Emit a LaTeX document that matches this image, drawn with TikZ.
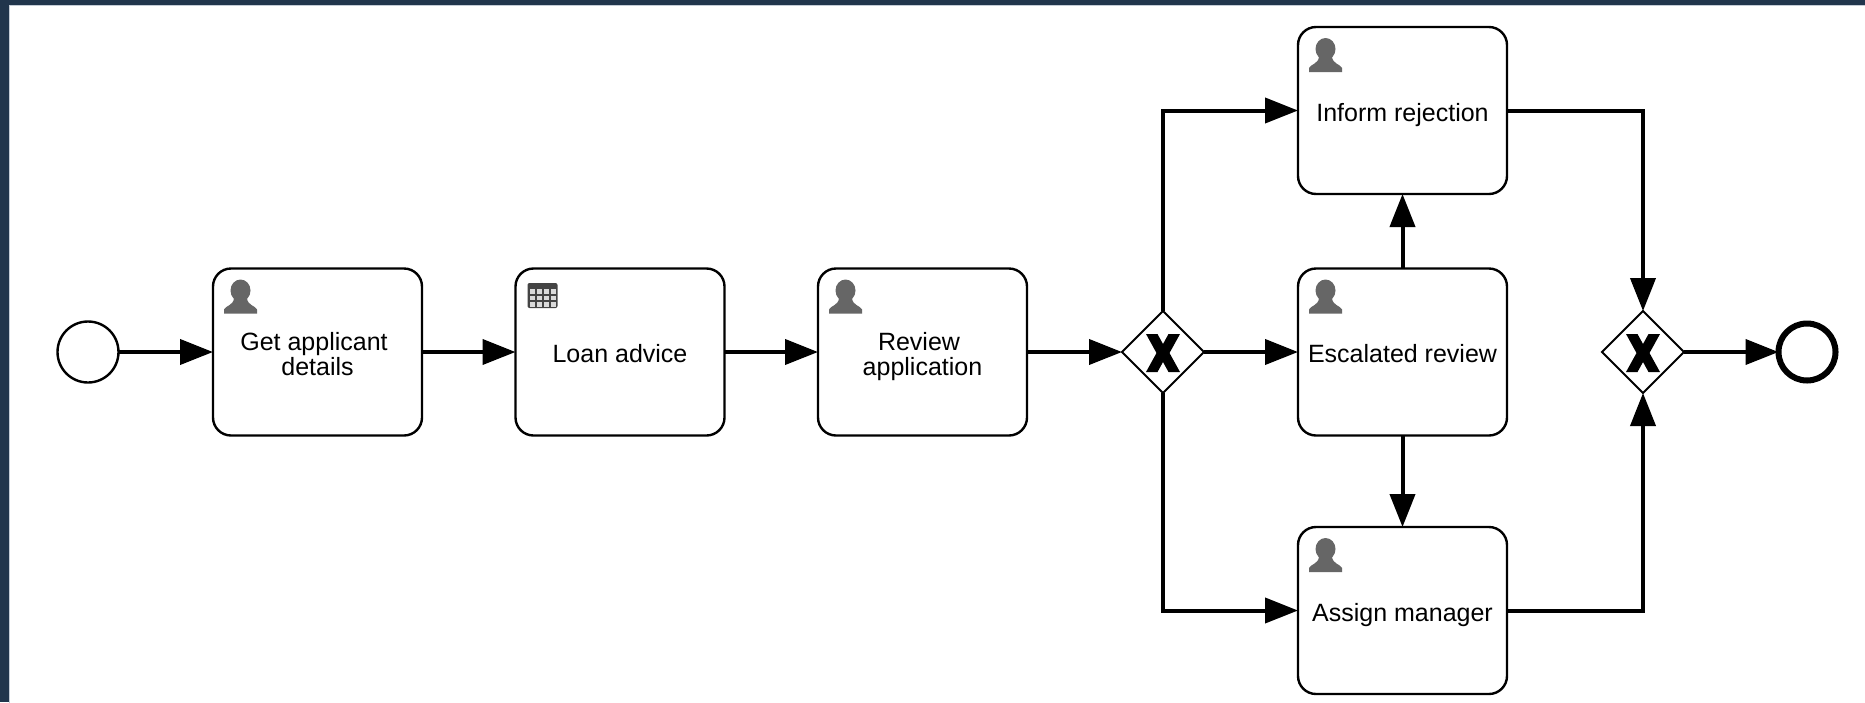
\documentclass[tikz,border=0pt]{standalone}
\usepackage{fontspec}
\setmainfont{Liberation Sans}
\usetikzlibrary{arrows.meta,shapes.geometric}
\newcommand{\topStrut}{\rule{0pt}{27pt}}
\newcommand{\bottomStrut}{\rule[-6pt]{0pt}{6pt}}

\begin{document}
\begin{tikzpicture}
[x=1pt,y=-1pt,
  taskDecorate/.style={shape=rectangle,draw,line width=2.4pt,rounded corners=18pt,inner sep=0pt,outer sep=0pt,
    minimum width=209pt,minimum height=167pt,align=center,font=\fontsize{25}{25}\selectfont},%
  gateDecorate/.style={shape=diamond,draw,line width=2pt,inner sep=0pt,outer sep=0pt,minimum width=82pt,minimum height=82pt},%
  startDecorate/.style={shape=circle,draw,line width=2.4pt,inner sep=0pt,outer sep=0pt,minimum size=61pt},%
  endDecorate/.style={shape=circle,draw,line width=6pt,inner sep=0pt,outer sep=0pt,minimum size=57pt},%
  lineDecorate/.style={line width=4pt,-{Triangle[length=33pt,width=25pt]}},%
  userIcon/.pic={
    \fill[iconGray] (27.5,22) ellipse (10 and 11);
    \fill[iconGray] (11,45) -- (11,41) .. controls (13,37) and (20,37) .. (21,30) -- (34,30)
      .. controls (35,37) and (42,37) .. (44,41) -- (44,45) -- cycle;
  },%
  tableIcon/.pic={
    \fill[iconDark,rounded corners=2pt] (12,14.5) rectangle (42,39.5);
    \foreach \rowy in {20.5,27,33.5}
      \foreach \colx in {14.5,21.5,28.5,35.5}
        \fill[white!80!iconDark] (\colx,\rowy) rectangle +(5,4.5);
  },%
  crossIcon/.pic={
    \fill (-17,-18) -- (-5.5,-18) -- (0,-8) -- (5.5,-18) -- (17,-18) -- (6.5,1) -- (17,20)
      -- (5.5,20) -- (0,10) -- (-5.5,20) -- (-17,20) -- (-6.5,1) -- cycle;
  }]
\definecolor{frameBlue}{HTML}{21354C}
\definecolor{frameEdge}{HTML}{C4CCD6}
\definecolor{iconGray}{HTML}{666666}
\definecolor{iconDark}{HTML}{444444}
\useasboundingbox (0,0) rectangle (1865,702);
%% page frame
\fill[frameBlue] (0,0) rectangle (1865,702);
\filldraw[fill=white,draw=frameEdge,line width=1pt] (9,5) rectangle (1870,710);
%% nodes or vertices
\node (start) at (88,352) [startDecorate] {};
\foreach \nodename/\x/\y/\caption in {details/317.5/352/{Get applicant\hspace*{7pt}\\details}, advice/620/352/{Loan advice},
  review/922.5/352/{Review\hspace*{7pt}\\application}, reject/1402.5/110.5/{Inform rejection},
  escalate/1402.5/352/{Escalated review}, manager/1402.5/610.5/{Assign manager}}
{
  \node (\nodename) at (\x,\y) [taskDecorate] {\topStrut\caption\bottomStrut};
}
\foreach \nodename/\x in {split/1163, join/1643}
{
  \node (\nodename) at (\x,352) [gateDecorate] {};
  \pic at (\nodename) {crossIcon};
}
\node (finish) at (1807,352) [endDecorate] {};
%% task markers
\foreach \nodename in {details, review, reject, escalate, manager}
{
  \pic at (\nodename.north west) {userIcon};
}
\pic at (advice.north west) {tableIcon};
%% edges or lines
\foreach \startnode/\endnode in {start/details, details/advice, advice/review, review/split,
  split/escalate, escalate/reject, escalate/manager, join/finish}
{
  \draw[lineDecorate] (\startnode) -- (\endnode);
}
\draw[lineDecorate] (split.north) |- (reject.west);
\draw[lineDecorate] (split.south) |- (manager.west);
\draw[lineDecorate] (reject.east) -| (join.north);
\draw[lineDecorate] (manager.east) -| (join.south);
\end{tikzpicture}
\end{document}
